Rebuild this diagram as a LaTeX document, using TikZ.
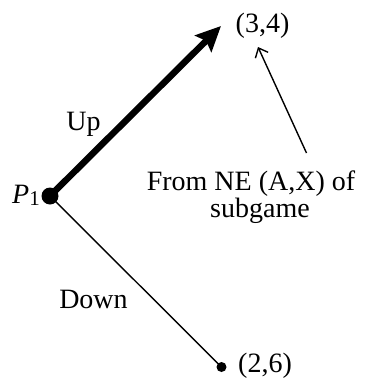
\documentclass[tikz,border=0pt]{standalone}
\usepackage{fontspec}
\setmainfont{Liberation Serif}
\usetikzlibrary{arrows.meta}
\begin{document}
\begin{tikzpicture}[x=1pt,y=-1pt,
  lbl/.style={inner sep=0pt,font=\fontsize{28}{25}\selectfont},
  dotnode/.style={circle,fill=black,inner sep=0pt},
  thick arrow/.style={line width=6.5pt,-{Stealth[length=25pt,width=23pt,inset=4pt]}},
  thin line/.style={line width=1.4pt},
  thin arrow/.style={line width=1.4pt,-{Straight Barb[length=8pt,width=14pt]}}]
\useasboundingbox (0,0) rectangle (370,378);
\node[dotnode,minimum size=17pt] (p1) at (50,196) {};
\node[dotnode,minimum size=10pt] (d) at (221.5,367) {};
\coordinate (upend) at (221,26);
\node[lbl,anchor=base] (u34) at (262.5,32) {(3,4)};
\node[lbl,anchor=base west] (d26) at (238,372) {(2,6)};
\node[lbl,anchor=base] (up) at (83.5,130) {Up};
\node[lbl,anchor=base] (down) at (93.5,308) {Down};
\node[lbl,anchor=base west] (pl) at (12,203) {\itshape P\normalfont\raisebox{-0.2ex}{\fontsize{21}{21}\selectfont 1}};
\node[lbl,anchor=base,align=center] (from) at (251,217) {From NE (A,X) of\\\hspace*{18pt}subgame};
\coordinate (ts) at (306.5,153);
\coordinate (te) at (258,47);
\draw[thick arrow] (p1.center) -- (upend);
\draw[thin line] (p1.center) -- (d.center);
\draw[thin arrow] (ts) -- (te);
\end{tikzpicture}
\end{document}
